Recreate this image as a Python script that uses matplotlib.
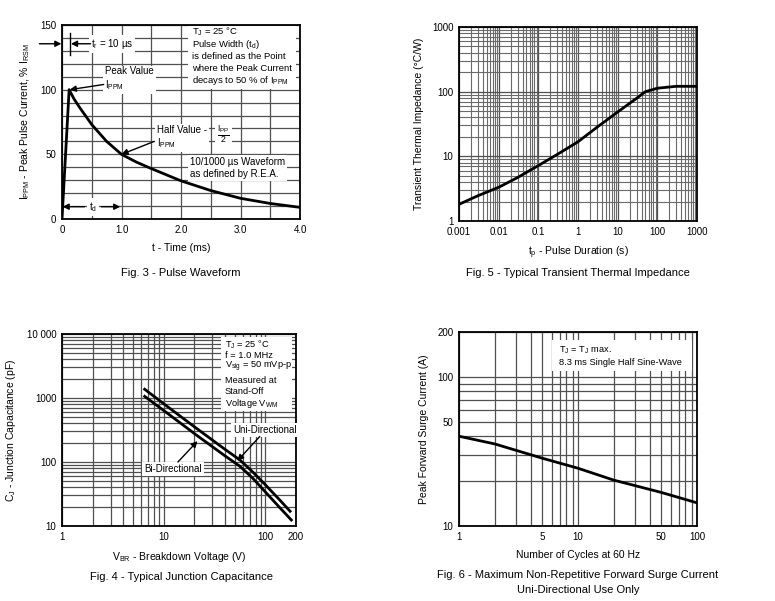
import numpy as np
import matplotlib
matplotlib.use('Agg')
import matplotlib.pyplot as plt
from matplotlib.patches import Rectangle
from matplotlib.ticker import FixedLocator, NullFormatter, FixedFormatter

plt.rcParams['font.family'] = ['Liberation Sans', 'DejaVu Sans']
plt.rcParams['mathtext.fontset'] = 'custom'
plt.rcParams['mathtext.rm'] = 'Liberation Sans'
plt.rcParams['mathtext.it'] = 'Liberation Sans'
plt.rcParams['mathtext.bf'] = 'Liberation Sans:bold'
plt.rcParams['font.size'] = 7

# Fig. 3 - pulse waveform (time in ms, % of IPPM)
pulse_t = [0.0, 0.12, 0.2, 0.3, 0.5, 0.75, 1.0, 1.25, 1.5, 2.0, 2.5, 3.0, 3.5, 4.0]
pulse_i = [0.0, 100, 93, 86, 73, 60, 50, 44, 39, 29.5, 22, 16, 12, 9]

# Fig. 5 - transient thermal impedance
zth_t = [0.001, 0.003, 0.01, 0.03, 0.1, 0.3, 1, 3, 10, 20, 30, 50, 100, 300, 1000]
zth_z = [1.81, 2.46, 3.32, 4.7, 7.2, 10.7, 16.8, 28.1, 48.5, 66, 79, 100, 113, 121, 121]

# Fig. 4 - junction capacitance
uni_v = [6.5, 10.7, 21, 40, 56, 75, 100, 140, 175]
uni_c = [1370, 750, 336, 158, 108, 70, 44, 25, 17]
bi_v = [6.5, 10.7, 21, 40, 56, 75, 100, 140, 180]
bi_c = [1060, 589, 263, 125, 86, 56, 34, 19, 12.4]

# Fig. 6 - surge current vs cycles
cyc_n = [1, 2, 5, 10, 20, 50, 100]
cyc_i = [40, 35.5, 28.5, 24.4, 20.3, 16.8, 14.3]

GRID = '#505050'
box = dict(facecolor='white', edgecolor='none', pad=1.5)
arrow = dict(arrowstyle='-|>', color='black', lw=1.0, mutation_scale=9,
             shrinkA=0, shrinkB=0)

fig = plt.figure(figsize=(7.75, 6.01), dpi=100)


def style(ax):
    for s in ax.spines.values():
        s.set_linewidth(1.3)
    ax.tick_params(which='both', length=0, pad=4, labelsize=7)
    ax.grid(True, which='both', color=GRID, lw=0.9)
    ax.set_axisbelow(True)


def note(ax, x, ys, lines, rect, size=7):
    # white panel with one text per line, in axes fraction
    ax.add_patch(Rectangle((rect[0], rect[1]), rect[2], rect[3], transform=ax.transAxes,
                           facecolor='white', edgecolor='none', zorder=2))
    for y, s in zip(ys, lines):
        ax.text(x, y, s, transform=ax.transAxes, va='center', ha='left',
                fontsize=size, zorder=3)


# ---------- Fig. 3 ----------
ax3 = fig.add_axes([62/775, 1-219/601, 238/775, 194/601])
ax3.plot(pulse_t, pulse_i, color='black', lw=2, zorder=4)
ax3.set_xlim(0, 4)
ax3.set_ylim(0, 150)
ax3.set_xticks([0, 1, 2, 3, 4])
ax3.set_xticklabels(['0', '1.0', '2.0', '3.0', '4.0'])
ax3.set_xticks(np.arange(0.5, 4, 1.0), minor=True)
ax3.set_yticks([0, 50, 100, 150])
ax3.set_yticks([v for v in range(10, 150, 10) if v % 50], minor=True)
style(ax3)
ax3.set_xlabel('t - Time (ms)', fontsize=7.5, labelpad=6)
ax3.set_ylabel(r'I$_{PPM}$ - Peak Pulse Current, % I$_{RSM}$', fontsize=7.5, labelpad=6)
note(ax3, 0.546, [0.966, 0.902, 0.840, 0.778, 0.714],
     ['T$_J$ = 25 °C', 'Pulse Width (t$_d$)', 'is defined as the Point',
      'where the Peak Current', 'decays to 50 % of I$_{PPM}$'],
     (0.529, 0.67, 0.455, 0.325), size=6.8)
ax3.text(0.72, 108, 'Peak Value\nI$_{PPM}$', va='center', ha='left', fontsize=7,
         bbox=box, zorder=3)
ax3.annotate('', xy=(0.13, 100), xytext=(0.70, 104), arrowprops=arrow, zorder=5)
ax3.text(1.6, 63, 'Half Value -\nI$_{PPM}$', va='center', ha='left', fontsize=7,
         bbox=box, zorder=3)
ax3.text(2.72, 66, r'$\frac{I_{PP}}{2}$', va='center', ha='center', fontsize=9,
         bbox=box, zorder=3)
ax3.annotate('', xy=(1.0, 50), xytext=(1.55, 60), arrowprops=arrow, zorder=5)
ax3.text(2.15, 39.5, '10/1000 µs Waveform\nas defined by R.E.A.', va='center',
         ha='left', fontsize=7, bbox=box, zorder=3)
ax3.text(0.48, 135.5, 't$_r$ = 10 µs', va='center', ha='left', fontsize=7,
         bbox=box, zorder=3)
ax3.annotate('', xy=(0.15, 135.5), xytext=(0.48, 135.5), arrowprops=arrow, zorder=5)
ax3.plot([0.13, 0.13], [126.5, 144], color='black', lw=1, zorder=5)
ax3.annotate('', xy=(-0.01, 135.5), xytext=(-0.38, 135.5), arrowprops=arrow,
             annotation_clip=False, zorder=5)
ax3.text(0.52, 9.5, 't$_d$', va='center', ha='center', fontsize=7, bbox=box, zorder=3)
ax3.annotate('', xy=(0.01, 9.5), xytext=(0.38, 9.5), arrowprops=arrow, zorder=5)
ax3.annotate('', xy=(0.98, 9.5), xytext=(0.66, 9.5), arrowprops=arrow, zorder=5)

# ---------- Fig. 5 ----------
ax5 = fig.add_axes([459/775, 1-221/601, 238/775, 194/601])
ax5.plot(zth_t, zth_z, color='black', lw=2, zorder=4)
ax5.set_xscale('log')
ax5.set_yscale('log')
ax5.set_xlim(0.001, 1000)
ax5.set_ylim(1, 1000)
ax5.set_xticks([0.001, 0.01, 0.1, 1, 10, 100, 1000])
ax5.set_xticklabels(['0.001', '0.01', '0.1', '1', '10', '100', '1000'])
ax5.set_yticks([1, 10, 100, 1000])
ax5.set_yticklabels(['1', '10', '100', '1000'])
ax5.xaxis.set_minor_formatter(NullFormatter())
ax5.yaxis.set_minor_formatter(NullFormatter())
style(ax5)
ax5.grid(True, which='minor', color='#6a6a6a', lw=0.8)
ax5.set_xlabel('t$_p$ - Pulse Duration (s)', fontsize=7.5, labelpad=6)
ax5.set_ylabel('Transient Thermal Impedance (°C/W)', fontsize=7.5, labelpad=6)

# ---------- Fig. 4 ----------
ax4 = fig.add_axes([62/775, 1-526/601, 234/775, 192/601])
ax4.plot(uni_v, uni_c, color='black', lw=2, zorder=4)
ax4.plot(bi_v, bi_c, color='black', lw=2, zorder=4)
ax4.set_xscale('log')
ax4.set_yscale('log')
ax4.set_xlim(1, 200)
ax4.set_ylim(10, 10000)
ax4.xaxis.set_major_locator(FixedLocator([1, 10, 100, 200]))
ax4.xaxis.set_major_formatter(FixedFormatter(['1', '10', '100', '200']))
ax4.yaxis.set_major_locator(FixedLocator([10, 100, 1000, 10000]))
ax4.yaxis.set_major_formatter(FixedFormatter(['10', '100', '1000', '10 000']))
ax4.xaxis.set_minor_formatter(NullFormatter())
ax4.yaxis.set_minor_formatter(NullFormatter())
style(ax4)
ax4.set_xlabel('V$_{BR}$ - Breakdown Voltage (V)', fontsize=7.5, labelpad=6)
ax4.set_ylabel('C$_J$ - Junction Capacitance (pF)', fontsize=7.5, labelpad=6)
note(ax4, 0.695, [0.945, 0.888, 0.826, 0.758, 0.701, 0.638],
     ['T$_J$ = 25 °C', 'f = 1.0 MHz', 'V$_{sig}$ = 50 mVp-p', 'Measured at',
      'Stand-Off', 'Voltage V$_{WM}$'],
     (0.68, 0.6, 0.305, 0.385), size=6.7)
ax4.text(99, 316, 'Uni-Directional', va='center', ha='center', fontsize=7,
         bbox=box, zorder=3)
ax4.annotate('', xy=(53, 104), xytext=(88, 250), arrowprops=arrow, zorder=5)
ax4.text(12.4, 77, 'Bi-Directional', va='center', ha='center', fontsize=7,
         bbox=box, zorder=3)
ax4.annotate('', xy=(21.5, 212), xytext=(13.8, 100), arrowprops=arrow, zorder=5)

# ---------- Fig. 6 ----------
ax6 = fig.add_axes([459/775, 1-526/601, 238/775, 194/601])
ax6.plot(cyc_n, cyc_i, color='black', lw=2, zorder=4)
ax6.set_xscale('log')
ax6.set_yscale('log')
ax6.set_xlim(1, 100)
ax6.set_ylim(10, 200)
ax6.xaxis.set_major_locator(FixedLocator([1, 5, 10, 50, 100]))
ax6.xaxis.set_major_formatter(FixedFormatter(['1', '5', '10', '50', '100']))
ax6.xaxis.set_minor_locator(FixedLocator([2, 3, 4, 6, 7, 8, 9, 20, 30, 40, 60, 70, 80, 90]))
ax6.yaxis.set_major_locator(FixedLocator([10, 50, 100, 200]))
ax6.yaxis.set_major_formatter(FixedFormatter(['10', '50', '100', '200']))
ax6.yaxis.set_minor_locator(FixedLocator([20, 30, 40, 60, 70, 80, 90]))
ax6.xaxis.set_minor_formatter(NullFormatter())
ax6.yaxis.set_minor_formatter(NullFormatter())
style(ax6)
ax6.set_xlabel('Number of Cycles at 60 Hz', fontsize=7.5, labelpad=6)
ax6.set_ylabel('Peak Forward Surge Current (A)', fontsize=7.5, labelpad=6)
note(ax6, 0.42, [0.905, 0.845], ['T$_J$ = T$_J$ max.', '8.3 ms Single Half Sine-Wave'],
     (0.39, 0.8, 0.59, 0.158), size=6.7)

# captions
fig.text(181/775, 1-273/601, 'Fig. 3 - Pulse Waveform', ha='center', va='center', fontsize=8)
fig.text(578/775, 1-273/601, 'Fig. 5 - Typical Transient Thermal Impedance',
         ha='center', va='center', fontsize=8)
fig.text(181/775, 1-577/601, 'Fig. 4 - Typical Junction Capacitance',
         ha='center', va='center', fontsize=8)
fig.text(578/775, 1-575/601, 'Fig. 6 - Maximum Non-Repetitive Forward Surge Current',
         ha='center', va='center', fontsize=8)
fig.text(578/775, 1-590/601, 'Uni-Directional Use Only', ha='center', va='center',
         fontsize=8)

fig.savefig('out.png', dpi=100, facecolor='white')
